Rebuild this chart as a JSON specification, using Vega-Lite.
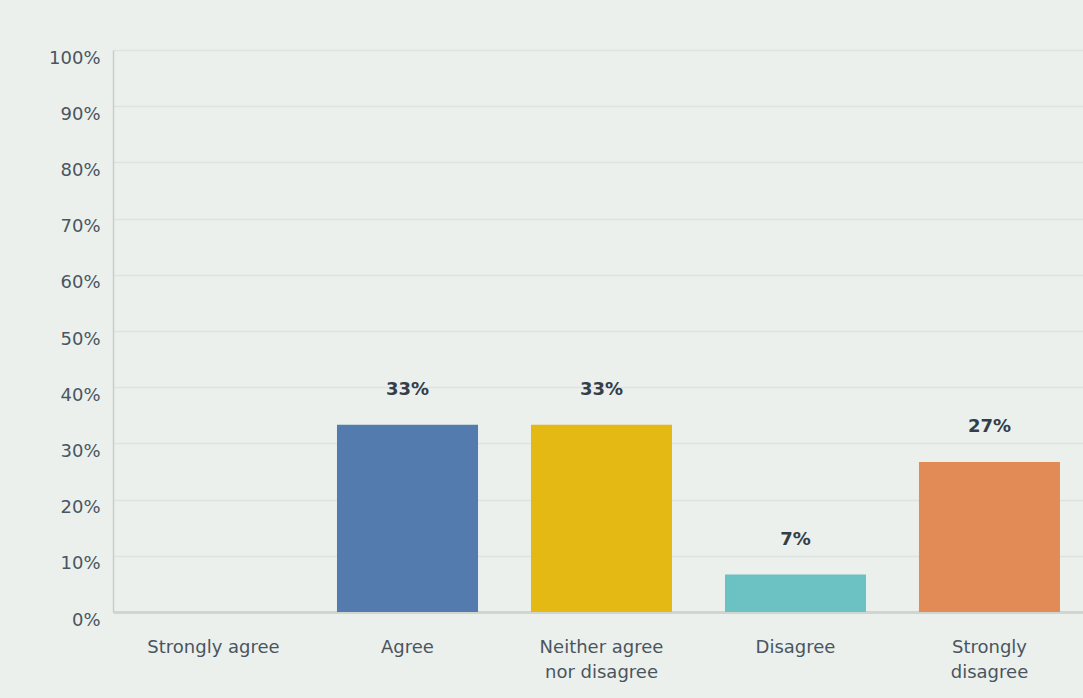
{
  "$schema": "https://vega.github.io/schema/vega-lite/v6.json",
  "width": 977,
  "height": 562,
  "autosize": {"type": "none"},
  "padding": {"left": 113, "top": 50, "right": 0, "bottom": 86},
  "background": "#ebf0ed",
  "config": {
    "view": {"stroke": null},
    "font": "DejaVu Sans"
  },
  "data": {
    "values": [
      {"answer": "Strongly agree", "pct": 0, "label": ""},
      {"answer": "Agree", "pct": 33.33, "label": "33%"},
      {"answer": "Neither agree nor disagree", "pct": 33.33, "label": "33%"},
      {"answer": "Disagree", "pct": 6.67, "label": "7%"},
      {"answer": "Strongly disagree", "pct": 26.67, "label": "27%"}
    ]
  },
  "encoding": {
    "x": {
      "field": "answer",
      "type": "nominal",
      "sort": null,
      "scale": {"paddingInner": 0.273, "paddingOuter": 0.1546},
      "axis": {
        "title": null,
        "labelAngle": 0,
        "ticks": false,
        "domain": true,
        "domainColor": "#d0d5d2",
        "domainWidth": 3,
        "labelPadding": 35,
        "labelFontSize": 18,
        "labelColor": "#4a5560",
        "labelLineHeight": 25,
        "labelBaseline": "middle",
        "labelExpr": "datum.value == 'Neither agree nor disagree' ? ['Neither agree', 'nor disagree'] : datum.value == 'Strongly disagree' ? ['Strongly', 'disagree'] : datum.value"
      }
    },
    "y": {
      "field": "pct",
      "type": "quantitative",
      "scale": {"domain": [0, 100], "nice": false},
      "axis": {
        "title": null,
        "values": [0, 10, 20, 30, 40, 50, 60, 70, 80, 90, 100],
        "ticks": false,
        "domain": true,
        "domainColor": "#c8cdca",
        "domainWidth": 1.5,
        "grid": true,
        "gridColor": "#dde3df",
        "gridWidth": 1.5,
        "labelPadding": 13,
        "labelOffset": 8,
        "labelFontSize": 18,
        "labelColor": "#4a5560",
        "labelExpr": "datum.value + '%'"
      }
    }
  },
  "layer": [
    {
      "mark": {"type": "bar"},
      "encoding": {
        "color": {
          "field": "answer",
          "type": "nominal",
          "sort": null,
          "legend": null,
          "scale": {
            "domain": ["Strongly agree", "Agree", "Neither agree nor disagree", "Disagree", "Strongly disagree"],
            "range": ["#3f9ab8", "#537bad", "#e5b913", "#6cc2c2", "#e28b56"]
          }
        }
      }
    },
    {
      "mark": {"type": "text", "baseline": "middle", "dy": -35, "fontSize": 18, "fontWeight": "bold", "color": "#333e48"},
      "encoding": {
        "text": {"field": "label"}
      }
    }
  ]
}
